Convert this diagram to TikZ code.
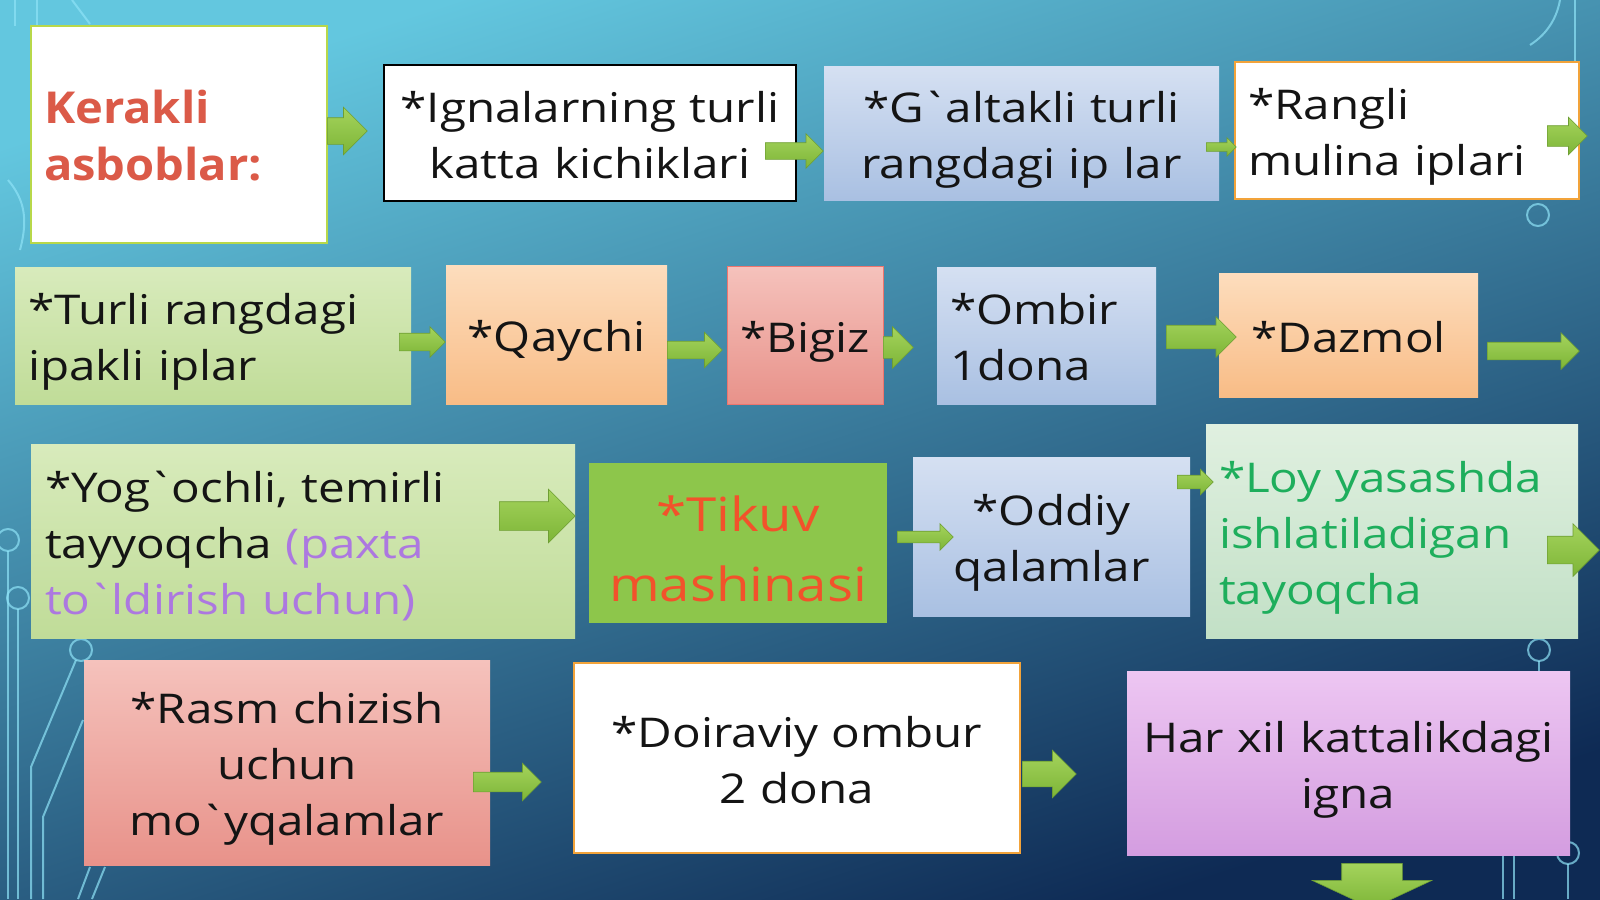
\documentclass[tikz,border=0pt]{standalone}
\usepackage{fontspec}
\usepackage{tikz}
\usetikzlibrary{shapes.arrows}

\newfontfamily\slidefont[FakeStretch=1.16]{Open Sans}
\newfontfamily\titlefont[FakeStretch=1.07]{Open Sans}
\newcommand{\lnstrut}{\rule[-11pt]{0pt}{56pt}}
\newcommand{\gravemark}{\kern-3pt`\kern-3pt}

\definecolor{bgtop}{HTML}{63C7DF}
\definecolor{bgmid}{HTML}{2E8CBB}
\definecolor{bgbot}{HTML}{0E2A54}
\definecolor{wirec}{HTML}{8FE3F7}
\definecolor{arrowtop}{HTML}{A4D35C}
\definecolor{arrowbot}{HTML}{7DB537}
\definecolor{arrowline}{HTML}{6E9E33}
\definecolor{titlered}{HTML}{DB5A48}
\definecolor{limeedge}{HTML}{B8D84A}
\definecolor{orangeedge}{HTML}{F2A33A}
\definecolor{bluetop}{HTML}{D5E0F2}
\definecolor{bluebot}{HTML}{A9C0E2}
\definecolor{greentop}{HTML}{D8EBBC}
\definecolor{greenbot}{HTML}{C0DC98}
\definecolor{peachtop}{HTML}{FDDDBD}
\definecolor{peachbot}{HTML}{F8BC86}
\definecolor{pinktop}{HTML}{F5C2BC}
\definecolor{pinkbot}{HTML}{E8928A}
\definecolor{minttop}{HTML}{E0F0E0}
\definecolor{mintbot}{HTML}{C2E0C6}
\definecolor{lilactop}{HTML}{EDC6F2}
\definecolor{lilacbot}{HTML}{D49DE0}
\definecolor{tikuvfill}{HTML}{8DC64B}
\definecolor{tikuvtext}{HTML}{F2522B}
\definecolor{paxtatext}{HTML}{AC78E0}
\definecolor{loytext}{HTML}{1EAE5C}

\tikzset{
  itembox/.style={rectangle, inner xsep=13pt, inner ysep=0pt,
    font=\slidefont\fontsize{41}{56}\selectfont, text=black!92,
    execute at begin node=\lnstrut, execute at end node=\lnstrut},
  leftbox/.style={itembox, align=left, text width=#1},
  midbox/.style={itembox, inner xsep=5pt, align=center, text width=#1},
  bluebox/.style={top color=bluetop, bottom color=bluebot},
  greenbox/.style={top color=greentop, bottom color=greenbot},
  peachbox/.style={top color=peachtop, bottom color=peachbot},
  garrow/.style n args={3}{single arrow, anchor=tail, inner xsep=0pt,
    minimum height=#1, inner ysep=#2, single arrow head extend=#3,
    top color=arrowtop, bottom color=arrowbot, draw=arrowline, line width=0.6pt},
  wire/.style={draw=wirec, line width=2pt, opacity=0.7}
}

\begin{document}
\begin{tikzpicture}[x=1pt,y=-1pt]
\useasboundingbox (0,0) rectangle (1600,899);
\shade[top color=bgtop, middle color=bgmid, bottom color=bgbot, shading angle=18] (0,0) rectangle (1600,899);

% circuit lines
\draw[wire] (15,0) -- (15,26);
\draw[wire] (37,0) -- (37,26);
\draw[wire] (72,0) -- (90,24);
\draw[wire] (8,180) .. controls (25,200) and (28,220) .. (20,250);
\draw[wire] (8,551) -- (8,899);
\draw[wire] (8,540) circle (11);
\draw[wire] (18,609) -- (18,899);
\draw[wire] (18,598) circle (11);
\draw[wire] (81,650) circle (11);
\draw[wire] (76,660) -- (31,767) -- (31,899);
\draw[wire] (83,720) -- (43,817) -- (43,899);
\draw[wire] (90,867) -- (78,899);
\draw[wire] (105,867) -- (92,899);
\draw[wire] (1560,0) .. controls (1556,22) and (1544,36) .. (1530,45);
\draw[wire] (1575,0) -- (1575,62);
\draw[wire] (1538,215) circle (11);
\draw[wire] (1539,650) circle (11);
\draw[wire] (1539,661) -- (1539,671);
\draw[wire] (1568,853) circle (11);
\draw[wire] (1568,864) -- (1568,899);
\draw[wire] (1503,855) -- (1503,899);
\draw[wire] (1514,855) -- (1514,899);

% first row
\node[leftbox=270, fill=white, draw=limeedge, line width=2pt, minimum width=296, minimum height=217,
  font=\titlefont\bfseries\fontsize{44}{55}\selectfont, text=titlered] (kerakli) at (179,134.5) {Kerakli\\asboblar:};
\node[midbox=402, fill=white, draw=black, line width=1.5pt, minimum width=412, minimum height=136] (ignalar) at (590,133) {*Ignalarning turli\\katta kichiklari};
\node[midbox=385, bluebox, minimum width=395, minimum height=133] (galtak) at (1021.5,133.5) {*G\gravemark altakli turli\\rangdagi ip lar};
\node[leftbox=318, fill=white, draw=orangeedge, line width=2pt, minimum width=344, minimum height=137] (rangli) at (1407,130.5) {*Rangli\\mulina iplari};

% second row
\node[leftbox=370, greenbox, minimum width=396, minimum height=137] (turli) at (213,335.5) {*Turli rangdagi\\ipakli iplar};
\node[midbox=211, peachbox, minimum width=221, minimum height=139] (qaychi) at (556.5,334.5) {*Qaychi};
\node[midbox=146, top color=pinktop, bottom color=pinkbot, draw=pinkbot!80!red, line width=1pt, minimum width=156, minimum height=138] (bigiz) at (805,335) {*Bigiz};
\node[leftbox=193, bluebox, minimum width=219, minimum height=137] (ombir) at (1046.5,335.5) {*Ombir\\1dona};
\node[midbox=249, peachbox, minimum width=259, minimum height=124] (dazmol) at (1348.5,335) {*Dazmol};

% third row
\node[leftbox=516, greenbox, minimum width=544, minimum height=194] (yogoch) at (303,541) {*Yog\gravemark ochli, temirli\\tayyoqcha \textcolor{paxtatext}{(paxta}\\\textcolor{paxtatext}{to\gravemark ldirish uchun)}};
\node[midbox=288, fill=tikuvfill, minimum width=298, minimum height=160, text=tikuvtext,
  font=\slidefont\fontsize{47}{65}\selectfont, execute at begin node={\rule[-7pt]{0pt}{65pt}},
  execute at end node={\rule[-7pt]{0pt}{65pt}}] (tikuv) at (738,543) {*Tikuv\\mashinasi};
\node[midbox=267, bluebox, minimum width=277, minimum height=159] (oddiy) at (1051.5,536.5) {*Oddiy\\qalamlar};
\node[leftbox=346, top color=minttop, bottom color=mintbot, minimum width=372, minimum height=214, text=loytext] (loy) at (1392,531) {*Loy yasashda\\ishlatiladigan\\tayoqcha};

% fourth row
\node[midbox=396, top color=pinktop, bottom color=pinkbot, minimum width=406, minimum height=205] (rasm) at (287,762.5) {*Rasm chizish\\uchun\\mo\gravemark yqalamlar};
\node[midbox=436, fill=white, draw=orangeedge, line width=2pt, minimum width=446, minimum height=190] (doira) at (797,758) {*Doiraviy ombur\\2 dona};
\node[midbox=433, top color=lilactop, bottom color=lilacbot, minimum width=443, minimum height=184] (igna) at (1348.5,763) {Har xil kattalikdagi\\igna};

% arrows
\node[garrow={40}{13}{10.5}] (a1) at (327,131) {};
\node[garrow={58}{8}{9}] (a2) at (765,151) {};
\node[garrow={30}{4}{5}] (a3) at (1206,147) {};
\node[garrow={40}{10}{8.5}] (a4) at (1547,136) {};
\node[garrow={46}{8.5}{6.5}] (a5) at (399,342) {};
\node[garrow={55}{8.5}{9}] (a6) at (667,350) {};
\node[garrow={30}{10.5}{10}] (a7) at (883,347.5) {};
\node[garrow={70}{11.5}{8.5}] (a8) at (1166,337) {};
\node[garrow={92}{8.5}{9.5}] (a9) at (1487,351) {};
\node[garrow={76}{14}{12.5}] (a10) at (499,516) {};
\node[garrow={56}{5.5}{7.5}] (a11) at (897,537) {};
\node[garrow={36}{6.5}{6}] (a12) at (1177,482) {};
\node[garrow={52}{13.5}{12.5}] (a13) at (1547,550) {};
\node[garrow={68}{9.5}{9}] (a14) at (473,782) {};
\node[garrow={54}{12.5}{11}] (a15) at (1022,774) {};
\node[garrow={45}{0}{29.5}, inner xsep=30, shape border rotate=270, single arrow tip angle=130] (a16) at (1372,863) {};
\end{tikzpicture}
\end{document}
